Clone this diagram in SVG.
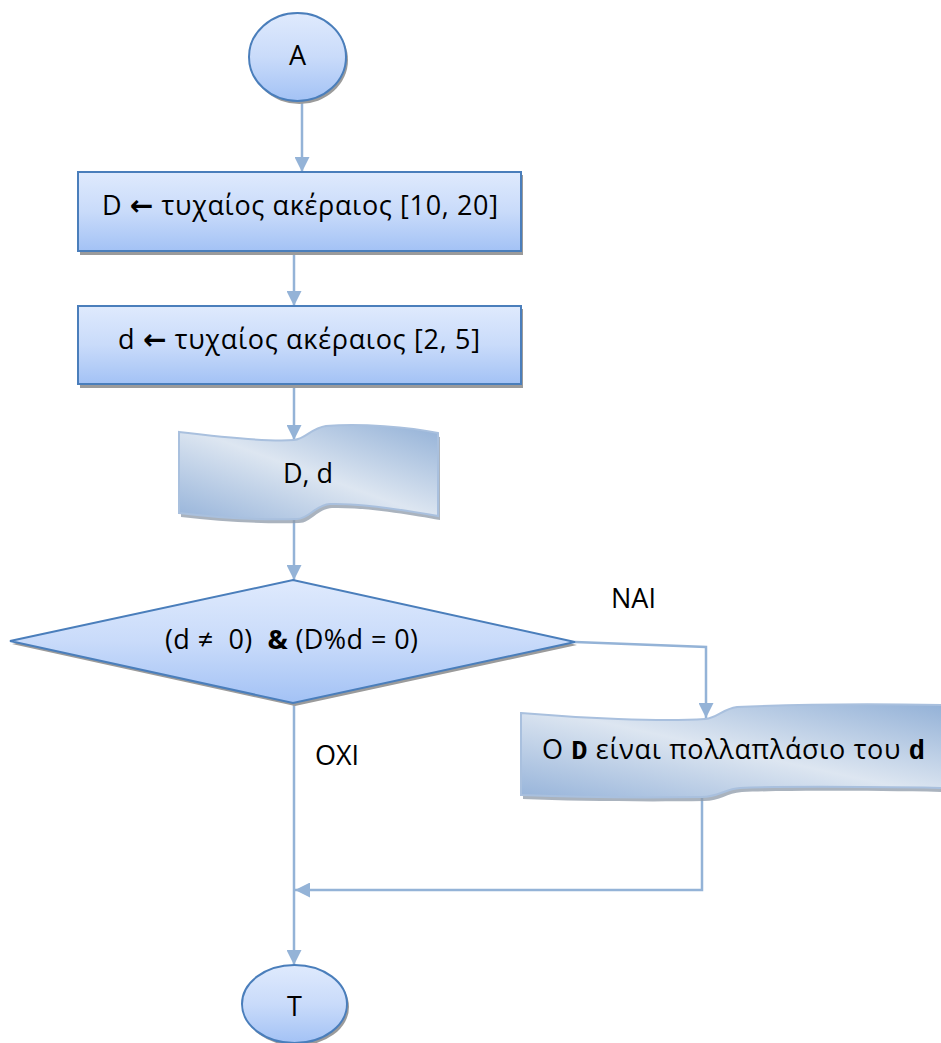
<svg xmlns="http://www.w3.org/2000/svg" width="941" height="1043" viewBox="0 0 941 1043">
<style>
.t{font-family:"Open Sans","Noto Sans","DejaVu Sans",sans-serif;font-size:27px;fill:#000}
.node{fill:url(#gBlue);stroke:#4a7ebb;stroke-width:2}
.shadow{fill:#9b9b9b;stroke:none}
.doc{fill:url(#gDoc);stroke:#a9c0de;stroke-width:2}
.dshadow{fill:#8e99a8;opacity:0.75;stroke:none}
.conn{fill:none;stroke:#94b3d7;stroke-width:2.5}
.arr{font-family:"DejaVu Sans",sans-serif;font-weight:bold;font-size:28px}
.mono{font-family:"Liberation Mono","Courier New",monospace;font-weight:bold}
</style>
<defs>
<linearGradient id="gBlue" x1="0" y1="0" x2="0" y2="1">
<stop offset="0" stop-color="#dfeafd"/>
<stop offset="0.5" stop-color="#c9dbfa"/>
<stop offset="1" stop-color="#a3c2f5"/>
</linearGradient>
<linearGradient id="gDoc" x1="1" y1="0" x2="0" y2="1">
<stop offset="0" stop-color="#93b1d7"/>
<stop offset="0.5" stop-color="#dde6f1"/>
<stop offset="1" stop-color="#97b4da"/>
</linearGradient>
<marker id="ah" viewBox="0 0 10 10" refX="10" refY="5" markerUnits="userSpaceOnUse" markerWidth="15" markerHeight="15" orient="auto">
<path d="M0,0 L10,5 L0,10 z" fill="#94b3d7"/>
</marker>
</defs>

<g id="connectors">
<path class="conn" d="M302,101 L302,172" marker-end="url(#ah)"/>
<path class="conn" d="M294,251 L294,306" marker-end="url(#ah)"/>
<path class="conn" d="M294,384 L294,440" marker-end="url(#ah)"/>
<path class="conn" d="M294,519 L294,580" marker-end="url(#ah)"/>
<path class="conn" d="M575,642 L706,647 L706,718" marker-end="url(#ah)"/>
<path class="conn" d="M294,703 L294,965" marker-end="url(#ah)"/>
<path class="conn" d="M702,797 L702,890 L295,890" marker-end="url(#ah)"/>
</g>

<g id="start">
<ellipse class="shadow" cx="299.5" cy="60" rx="48.5" ry="44"/>
<ellipse class="node" cx="297.5" cy="57" rx="48.5" ry="44"/>
<text class="t" x="297.5" y="65" text-anchor="middle">A</text>
</g>

<g id="assignD">
<rect class="shadow" x="80" y="175" width="443" height="80"/>
<rect class="node" x="78" y="172" width="443" height="79"/>
<text class="t" x="102" y="215" textLength="396" lengthAdjust="spacing">D <tspan class="arr">←</tspan> τυχαίος ακέραιος [10, 20]</text>
</g>

<g id="assignd">
<rect class="shadow" x="80" y="309" width="443" height="79"/>
<rect class="node" x="78" y="306" width="443" height="78"/>
<text class="t" x="118" y="349" textLength="362" lengthAdjust="spacing">d <tspan class="arr">←</tspan> τυχαίος ακέραιος [2, 5]</text>
</g>

<g id="outputDd">
<path class="dshadow" transform="translate(2,4)" d="M179,432 C220,437 265,442 294,440 C306,439 311,428 326,426 C360,423 410,427 438,433 L438,516 C410,511 362,503 330,504 C315,505 309,519 297,519 C265,520 220,518 179,513 Z"/>
<path class="doc" d="M179,432 C220,437 265,442 294,440 C306,439 311,428 326,426 C360,423 410,427 438,433 L438,516 C410,511 362,503 330,504 C315,505 309,519 297,519 C265,520 220,518 179,513 Z"/>
<text class="t" x="308" y="483" text-anchor="middle">D, d</text>
</g>

<g id="decision">
<polygon class="shadow" points="12,644 295,583 577,645 295,706"/>
<polygon class="node" points="10,641 293,580 575,642 293,703"/>
<text class="t" x="165" y="649" textLength="253" lengthAdjust="spacing" xml:space="preserve">(d ≠  0)  <tspan font-weight="bold">&amp;</tspan> (D%d = 0)</text>
</g>

<g id="outputMultiple">
<path class="dshadow" transform="translate(2,4)" d="M521,713 C580,718 660,722 705,719 C718,718 722,709 737,707 C800,704 880,704 945,705 L945,788 C880,787 790,786 740,788 C725,789 718,797 702,797 C640,798 570,797 521,795 Z"/>
<path class="doc" d="M521,713 C580,718 660,722 705,719 C718,718 722,709 737,707 C800,704 880,704 945,705 L945,788 C880,787 790,786 740,788 C725,789 718,797 702,797 C640,798 570,797 521,795 Z"/>
<text class="t" x="542" y="759" textLength="383" lengthAdjust="spacing">Ο <tspan class="mono">D</tspan> είναι πολλαπλάσιο του <tspan class="mono">d</tspan></text>
</g>

<g id="labels">
<text class="t" x="611" y="608">ΝΑΙ</text>
<text class="t" x="315" y="765">ΟΧΙ</text>
</g>

<g id="end">
<ellipse class="shadow" cx="296.5" cy="1007" rx="52.5" ry="39"/>
<ellipse class="node" cx="294.5" cy="1004" rx="52.5" ry="39"/>
<text class="t" x="294.5" y="1016" text-anchor="middle">Τ</text>
</g>
</svg>
